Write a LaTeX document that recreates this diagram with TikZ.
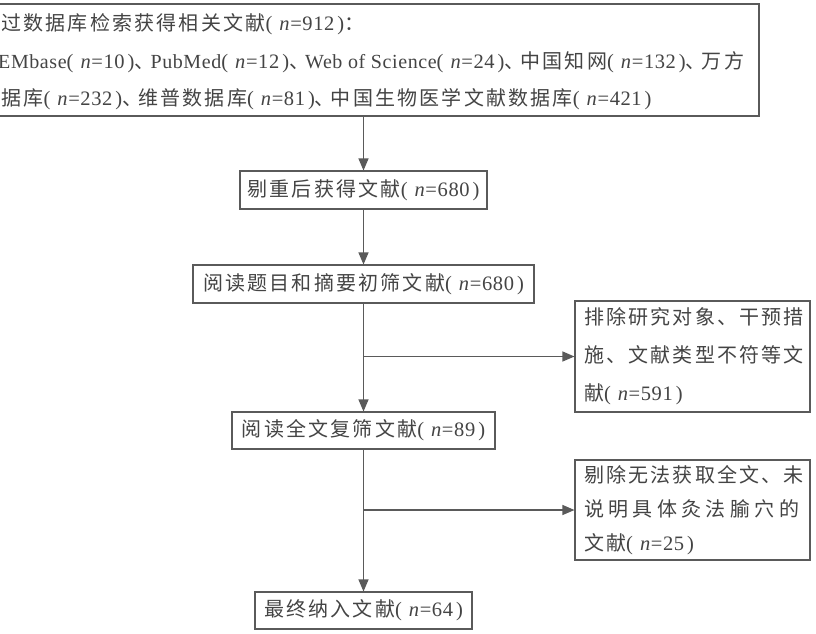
\documentclass[tikz,border=0pt]{standalone}
\usepackage{fontspec}
\setmainfont{Noto Sans CJK SC}[LetterSpace=11]
\newfontfamily\lat{Liberation Serif}[LetterSpace=3]
\usetikzlibrary{arrows.meta}
\definecolor{txt}{HTML}{444444}
\definecolor{ln}{HTML}{5A5A5A}
\newcommand\nn[1]{{\lat\fontsize{20.5}{38}\selectfont(\hspace{7pt}\textit{n}=#1\hspace{3pt})}}
\newcommand\la[1]{{\lat #1}}
\newcommand\dn{、\kern-4pt}
\begin{document}
\begin{tikzpicture}[x=1pt,y=-1pt,
  box/.style={draw=ln,line width=1.1pt,inner sep=0pt,text=txt,font=\fontsize{20}{38}\selectfont},
  stxt/.style={text=txt,inner sep=0pt,anchor=base west,font=\fontsize{20}{38}\selectfont},
  conn/.style={draw=ln,line width=1.1pt},
  arr/.style={conn,-{Triangle[length=12pt,width=10pt]}}]
\useasboundingbox (0,0) rectangle (816,633);
\clip (0,0) rectangle (816,633);
\fill[white] (0,0) rectangle (816,633);

\node[box,minimum width=789pt,minimum height=112pt] (search) at (364.5,60) {};
\node[stxt] (s1) at (-21,30) {通过数据库检索获得相关文献\nn{912}：};
\node[stxt] (s2) at (-2,68) {\la{EMbase}\nn{10}\dn\la{PubMed}\nn{12}\dn\la{Web of Science}\nn{24}\dn 中国知网\nn{132}\dn 万方};
\node[stxt] (s3) at (-21,105) {数据库\nn{232}\dn 维普数据库\nn{81}\dn 中国生物医学文献数据库\nn{421}};

\node[box,minimum width=247pt,minimum height=38pt] (dedup) at (363.5,190) {剔重后获得文献\nn{680}};
\node[box,minimum width=341pt,minimum height=38pt] (screen) at (363.5,284) {阅读题目和摘要初筛文献\nn{680}};
\node[box,minimum width=263pt,minimum height=37pt] (full) at (363.5,430.5) {阅读全文复筛文献\nn{89}};
\node[box,minimum width=217pt,minimum height=37pt] (final) at (363.5,610.5) {最终纳入文献\nn{64}};

\node[box,minimum width=235pt,minimum height=111pt,align=left,text width=217pt] (excl1) at (692.5,356.5) {排除研究对象、干预措\\施、文献类型不符等文\\献\nn{591}};
\node[box,minimum width=235pt,minimum height=100pt,align=left,text width=217pt,font=\fontsize{20}{34}\selectfont] (excl2) at (692.5,510) {剔除无法获取全文、未\\\makebox[215pt][l]{说\hfill 明\hfill 具\hfill 体\hfill 灸\hfill 法\hfill 腧\hfill 穴\hfill 的}\\文献\nn{25}};

\draw[arr] (dedup.north |- search.south) -- (dedup.north);
\draw[arr] (dedup.south) -- (screen.north);
\draw[arr] (screen.south) -- (full.north);
\coordinate (b1) at (screen.south |- excl1.west);
\draw[arr] (b1) -- (excl1.west);
\draw[arr] (full.south) -- (final.north);
\coordinate (b2) at (full.south |- excl2.west);
\draw[arr] (b2) -- (excl2.west);
\end{tikzpicture}
\end{document}
